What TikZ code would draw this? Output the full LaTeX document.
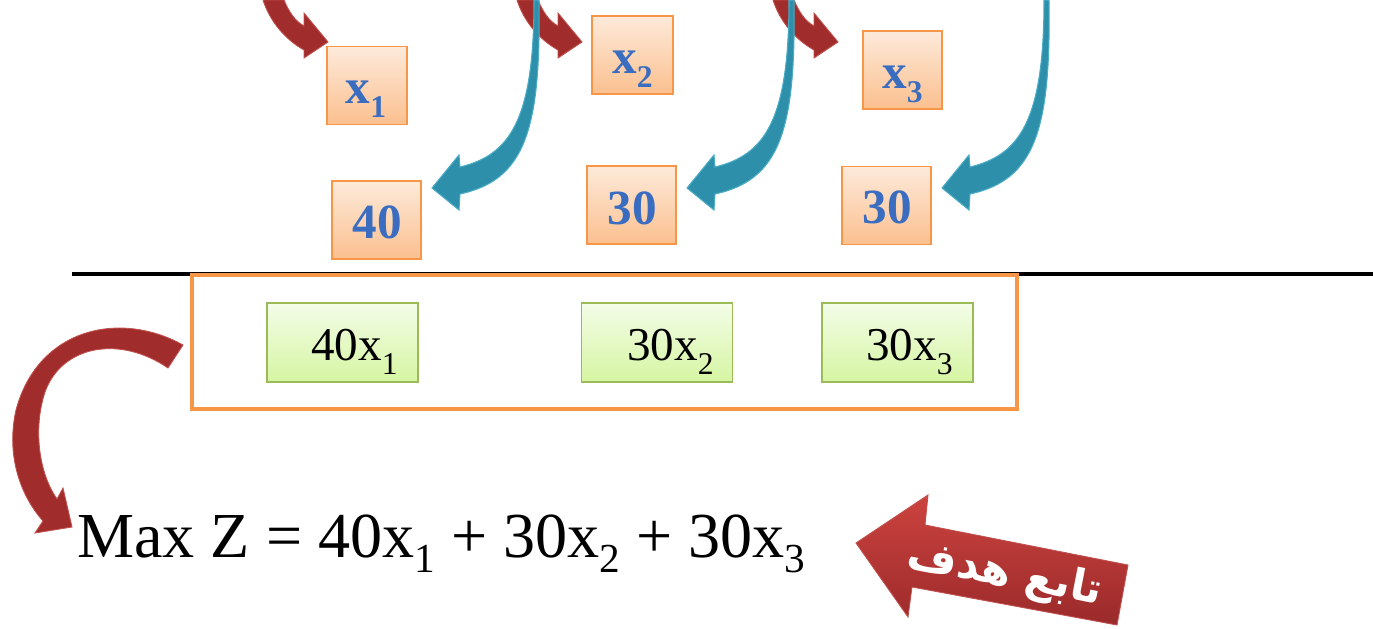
\documentclass[tikz,border=0pt]{standalone}
\usepackage{fontspec}
\setmainfont{Liberation Serif}
\newfontfamily\arabicfont[Script=Arabic]{DejaVu Sans}
\TeXXeTstate=1
\definecolor{obord}{HTML}{F79646}
\definecolor{otop}{HTML}{FDEADA}
\definecolor{obot}{HTML}{FBC08F}
\definecolor{gbord}{HTML}{9BBB59}
\definecolor{gtop}{HTML}{F3FDE8}
\definecolor{gbot}{HTML}{D6F5A2}
\definecolor{btxt}{HTML}{3A6DC0}
\definecolor{rfill}{HTML}{A12C2C}
\definecolor{redge}{HTML}{C0504D}
\definecolor{tfill}{HTML}{2E8FAA}
\definecolor{tedge}{HTML}{4BACC6}
\definecolor{rtop}{HTML}{CC433F}
\definecolor{rbot}{HTML}{9A2A2A}
\newcommand\lsub[3]{\raisebox{-#2}{\fontsize{#1}{#1}\selectfont #3}}
\newcommand\tealshape[1]{%
  \path[tealarrow, shift={(#1,0)}] (534,0) .. controls (534,120) and (510,155) .. (460,167)
    -- (459,155) -- (432,188) -- (459,210) -- (460,194)
    .. controls (525,180) and (541,130) .. (539,0) -- cycle;}
\newcommand\redshape[1]{%
  \path[redarrow, shift={(#1,0)}] (263,0) -- (284,0) .. controls (289,12) and (295,21) .. (304,26)
    -- (304,13) -- (328,42) -- (304,58) -- (304,50)
    .. controls (286,40) and (270,22) .. (263,0) -- cycle;}
\begin{document}
\begin{tikzpicture}[x=0.02cm,y=-0.02cm,
  obox/.style={draw=obord, line width=1.1pt, top color=otop, bottom color=obot,
    inner sep=0pt, minimum height=1.56cm},
  gbox/.style={draw=gbord, line width=1.1pt, top color=gtop, bottom color=gbot,
    inner sep=0pt, minimum width=3.02cm, minimum height=1.58cm},
  btext/.style={text=btxt, inner sep=0pt, anchor=base,
    font=\bfseries\fontsize{28}{30}\selectfont},
  gtext/.style={inner sep=0pt, anchor=base west, font=\fontsize{26.8}{30}\selectfont},
  redarrow/.style={fill=rfill, draw=redge, line width=0.5pt},
  tealarrow/.style={fill=tfill, draw=tedge, line width=0.6pt}]
\useasboundingbox (0,0) rectangle (1373,629);
% top red arrows
\redshape{0}
\redshape{254}
\redshape{510}
% teal arrows
\tealshape{0}
\tealshape{255}
\tealshape{510}
% orange boxes
\node[obox, minimum width=1.6cm] (bx1) at (367,85.5) {};
\node[obox, minimum width=1.62cm] (bx2) at (632.5,55) {};
\node[obox, minimum width=1.58cm] (bx3) at (902.5,70) {};
\node[obox, minimum width=1.78cm] (bn1) at (376.5,220) {};
\node[obox, minimum width=1.78cm] (bn2) at (631.5,205) {};
\node[obox, minimum width=1.78cm] (bn3) at (886.5,205.5) {};
\node[btext] (tx1) at (366,103) {x\lsub{18pt}{8pt}{1}};
\node[btext] (tx2) at (632.5,73) {x\lsub{18pt}{8pt}{2}};
\node[btext] (tx3) at (902.5,88) {x\lsub{18pt}{8pt}{3}};
\node[btext] (tn1) at (377,238) {40};
\node[btext] (tn2) at (632,224) {30};
\node[btext] (tn3) at (887,223) {30};
% line and frame
\coordinate (L0) at (72,274);
\coordinate (L1) at (1373,274);
\draw[line width=2.3pt] (L0) -- (L1);
\node[draw=obord, line width=2.6pt, fill=white, minimum width=16.5cm, minimum height=2.68cm, inner sep=0pt] (frame) at (604.5,342) {};
% green boxes
\node[gbox] (g1) at (342.5,342.5) {};
\node[gbox] (g2) at (657,342.5) {};
\node[gbox] (g3) at (897.5,342.5) {};
\node[gtext] (gt1) at (311,360) {40x\lsub{18pt}{8pt}{1}};
\node[gtext] (gt2) at (627,360) {30x\lsub{18pt}{8pt}{2}};
\node[gtext] (gt3) at (866,360) {30x\lsub{18pt}{8pt}{3}};
% left curved red arrow
\path[redarrow] (183,345) .. controls (120,310) and (38,328) .. (16,410)
   .. controls (6,455) and (20,495) .. (43,521) -- (35,533) -- (72,527) -- (63,488) -- (57,499)
   .. controls (37,470) and (34,425) .. (45,392)
   .. controls (62,345) and (120,335) .. (168,368) -- cycle;
% objective
\node[inner sep=0pt, anchor=base west, font=\fontsize{36.5}{40}\selectfont] (obj) at (77,557)
  {Max Z = 40x\lsub{23.5pt}{9pt}{1} + 30x\lsub{23.5pt}{9pt}{2} + 30x\lsub{23.5pt}{9pt}{3}};
% label arrow
\path[top color=rtop, bottom color=rbot, draw=redge, line width=0.5pt]
  (856,543) -- (928,495) -- (925,525) -- (1128,565) -- (1117,625) -- (912,587) -- (908,617) -- cycle;
\node[rotate=-11, text=white, inner sep=0pt, font=\arabicfont\bfseries\fontsize{24.5}{28}\selectfont] (lbl) at (1005,575)
  {\beginR تابع هدف\endR};
\end{tikzpicture}
\end{document}
